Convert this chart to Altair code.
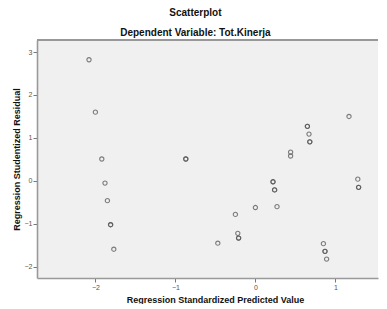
import altair as alt
import pandas as pd

pred = [-2.08, -2.00, -1.92, -1.88, -1.85, -1.81, -1.81, -1.77, -0.87, -0.87,
        1.17, 0.65, 0.65, 0.67, 0.68, 0.68, 0.44, 0.44, 0.22, 0.22, 0.24, 0.24,
        0.27, 0.00, -0.25, -0.22, -0.21, -0.21, -0.47, 1.28, 1.29, 1.29,
        0.85, 0.87, 0.87, 0.89]
resid = [2.82, 1.60, 0.51, -0.05, -0.46, -1.02, -1.02, -1.59, 0.51, 0.51,
         1.50, 1.27, 1.27, 1.09, 0.91, 0.91, 0.67, 0.58, -0.02, -0.02, -0.21, -0.21,
         -0.60, -0.62, -0.78, -1.22, -1.33, -1.33, -1.45, 0.04, -0.15, -0.15,
         -1.46, -1.64, -1.64, -1.82]

df = pd.DataFrame({"pred": pred, "resid": resid})

W, H = 341, 238
FONT = "Liberation Sans"

points = alt.Chart(df).mark_point(
    shape="circle", filled=False, size=18, strokeWidth=1.1,
    color="#555555", opacity=0.75
).encode(
    x=alt.X("pred:Q", scale=alt.Scale(domain=[-2.73, 1.5325], nice=False, zero=False),
            axis=alt.Axis(values=[-2, -1, 0, 1], title="Regression Standardized Predicted Value",
                          grid=False, titleX=178)),
    y=alt.Y("resid:Q", scale=alt.Scale(domain=[-2.26, 3.28], nice=False, zero=False),
            axis=alt.Axis(values=[-2, -1, 0, 1, 2, 3], title="Regression Studentized Residual",
                          grid=False)),
)

top = alt.Chart(df).mark_rule(color="#999999", strokeWidth=1.6).encode(
    x=alt.value(0), x2=alt.value(W), y=alt.value(0)
)

chart = alt.layer(points, top).properties(
    width=W, height=H,
    padding={"left": 4, "top": 0, "right": 0, "bottom": 0},
    title=alt.TitleParams(
        text="Scatterplot", subtitle="Dependent Variable: Tot.Kinerja",
        font=FONT, fontSize=10, fontWeight="bold", color="#111111",
        subtitleFont=FONT, subtitleFontSize=10, subtitleFontWeight="bold",
        subtitleColor="#111111", subtitlePadding=10, offset=1,
        anchor="middle", frame="bounds"
    ),
).configure_view(
    stroke=None, fill="#f0f0f0"
).configure_axis(
    domainColor="#999999", domainWidth=1.6, tickColor="#777777", tickSize=4,
    labelFont=FONT, labelFontSize=7, labelColor="#555555", labelPadding=1,
    titleFont=FONT, titleFontSize=9, titleFontWeight="bold", titleColor="#111111",
).configure_axisY(
    titlePadding=3
).configure_axisX(
    titlePadding=5
)

chart.save("out.html", embed_options={"renderer": "svg", "actions": False})
